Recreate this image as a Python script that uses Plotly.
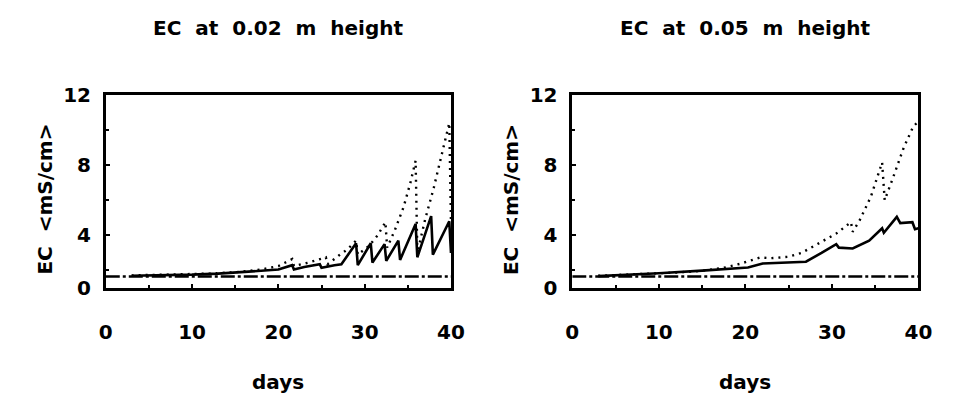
import plotly.graph_objects as go
from plotly.subplots import make_subplots

# Reference level of the irrigation water (dash-dot line)
days_ref = [0, 40]
ec_ref = [1.65, 1.65]

# EC at 0.02 m height
days_02_solid = [3, 6, 10, 13, 16, 18, 20, 21.6, 21.8, 23, 24.8, 25.0, 26.5, 27.3,
                 29.0, 29.2, 30.7, 30.9, 32.3, 32.5, 33.9, 34.1, 35.9, 36.1,
                 37.7, 37.9, 39.8, 40.0]
ec_02_solid = [1.70, 1.72, 1.76, 1.82, 1.90, 1.98, 2.05, 2.30, 2.05, 2.20, 2.35, 2.15, 2.30, 2.35,
               3.55, 2.30, 3.55, 2.45, 3.50, 2.55, 3.70, 2.60, 4.65, 2.75,
               5.10, 2.90, 4.80, 3.00]
days_02_dot = [3, 8, 12, 15, 18, 20, 21.6, 21.8, 23.5, 25.5, 25.7, 27, 28, 29.0, 29.2,
               30.5, 31.5, 32.4, 32.6, 33.5, 34.5, 35.3, 35.9, 36.1, 37, 38, 39, 39.8, 40.0]
ec_02_dot = [1.72, 1.76, 1.82, 1.90, 2.05, 2.25, 2.65, 2.25, 2.45, 2.75, 2.35, 2.85, 3.20, 3.70, 2.90,
             3.40, 4.00, 4.75, 3.30, 4.30, 5.60, 7.00, 8.25, 3.00, 4.90, 6.70, 8.70, 10.40, 4.70]

# EC at 0.05 m height
days_05_solid = [3, 6, 10, 15, 18.5, 20.3, 22, 27, 28.8, 30.5, 30.8, 32.4, 34.3, 35.8, 36.0,
                 37.5, 37.9, 39.3, 39.6, 40.0]
ec_05_solid = [1.68, 1.74, 1.84, 1.99, 2.10, 2.17, 2.40, 2.50, 3.00, 3.50, 3.30, 3.25, 3.70, 4.40, 4.15,
               5.05, 4.70, 4.75, 4.35, 4.40]
days_05_dot = [3, 8, 12, 15, 17.5, 19.4, 21.7, 23, 25, 26.5, 28.8, 30.5, 32.2, 32.4, 33.2, 34.5,
               35.8, 36.1, 37.0, 38.3, 39.4, 40.0]
ec_05_dot = [1.70, 1.78, 1.88, 1.98, 2.15, 2.38, 2.74, 2.70, 2.78, 3.00, 3.65, 4.10, 4.75, 4.20, 4.85, 6.20,
             8.15, 6.00, 7.20, 9.00, 10.20, 10.50]

NB = "\u00a0"  # wide word spacing as in the plotter lettering
titles = [NB.join(["EC", "at", "0.02", "m", "height"]).replace(NB, NB + " "),
          NB.join(["EC", "at", "0.05", "m", "height"]).replace(NB, NB + " ")]
y_title = "EC" + NB + " &lt;mS/cm&gt;"
x_title = "days"
x_ticks = [0, 10, 20, 30, 40]
# the lower frame edge sits at 1.0 mS/cm and carries the "0" label
y_range = [1.0, 12]
y_tickvals = [1.0, 4, 8, 12]
y_ticktext = ["0", "4", "8", "12"]

FONT = "DejaVu Sans"
FSIZE = 20
INK = "black"

fig = make_subplots(rows=1, cols=2, horizontal_spacing=0.13)

panels = [
    (days_02_solid, ec_02_solid, days_02_dot, ec_02_dot),
    (days_05_solid, ec_05_solid, days_05_dot, ec_05_dot),
]
for col, (xs, ys, xd, yd) in enumerate(panels, start=1):
    fig.add_trace(go.Scatter(x=days_ref, y=ec_ref, mode="lines",
                             line=dict(color=INK, width=2.5, dash="14px,3px,3px,3px")),
                  row=1, col=col)
    fig.add_trace(go.Scatter(x=xd, y=yd, mode="lines",
                             line=dict(color=INK, width=2.4, dash="2px,5px")),
                  row=1, col=col)
    fig.add_trace(go.Scatter(x=xs, y=ys, mode="lines",
                             line=dict(color=INK, width=2.6)),
                  row=1, col=col)

text_font = dict(family=FONT, size=FSIZE, color=INK, weight="bold")
axis_common = dict(showline=True, linecolor=INK, linewidth=2.5, mirror=True,
                   showgrid=False, zeroline=False, ticks="inside", ticklen=4,
                   tickwidth=2, tickcolor=INK, tickfont=text_font)

top_px, bot_px = 88, 293
doms = [(101 / 953, 454 / 953), (578 / 953, 932 / 953)]
for i, dom in enumerate(doms, start=1):
    xa = "xaxis" if i == 1 else f"xaxis{i}"
    ya = "yaxis" if i == 1 else f"yaxis{i}"
    fig.layout[xa].update(domain=list(dom), range=[0, 40], tickvals=x_ticks,
                          ticklabelstandoff=24,
                          minor=dict(dtick=5, ticks="inside", ticklen=3, tickcolor=INK),
                          **axis_common)
    fig.layout[ya].update(domain=[1 - bot_px / 414, 1 - top_px / 414], range=y_range,
                          tickvals=y_tickvals, ticktext=y_ticktext,
                          ticklabelstandoff=8,
                          minor=dict(tickvals=[2, 6, 10], ticks="inside", ticklen=3,
                                     tickcolor=INK),
                          **axis_common)

annotations = []
for i, dom in enumerate(doms):
    cx = (dom[0] + dom[1]) / 2
    annotations.append(dict(text=titles[i], x=cx, y=1 - 17 / 414, xref="paper", yref="paper",
                            showarrow=False, xanchor="center", yanchor="middle",
                            font=text_font))
    annotations.append(dict(text=x_title, x=cx, y=1 - 393 / 414, xref="paper", yref="paper",
                            showarrow=False, xanchor="center", yanchor="middle",
                            font=text_font))
    annotations.append(dict(text=y_title, x=(dom[0] * 953 - 62) / 953,
                            y=1 - 199 / 414, xref="paper", yref="paper",
                            showarrow=False, xanchor="center", yanchor="middle", textangle=-90,
                            font=text_font))

fig.update_layout(width=953, height=414, margin=dict(l=0, r=0, t=0, b=0),
                  paper_bgcolor="white", plot_bgcolor="white", showlegend=False,
                  annotations=annotations)

fig.write_html("out.html")
